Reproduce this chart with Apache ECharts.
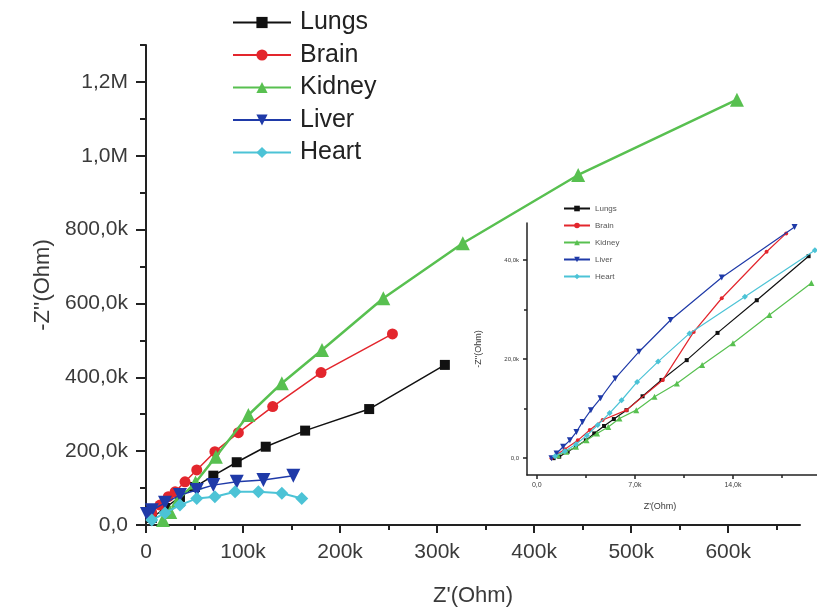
<!DOCTYPE html>
<html>
<head>
<meta charset="UTF-8">
<title>Nyquist plot</title>
<script src="https://cdn.jsdelivr.net/npm/echarts@6/dist/echarts.min.js"></script>
<style>
    html, body { margin: 0; padding: 0; background: #fff; }
    #main { width: 817px; height: 610px; }
</style>
</head>
<body>
<div id="main"></div>
<script>
// all values in kOhm, pairs are [Z', -Z'']
var lungs  = [[6,19],[19.6,46],[35,76],[50.5,103],[69.4,133.6],[93.5,170],[123.4,212],[164,255.6],[230,314],[308,433.6]];
var brain  = [[6,32.5],[14.4,54],[23,76.7],[30,90],[40.2,117],[52.3,149],[71,198.6],[95.2,250],[130.6,320.6],[180.4,412.7],[254,517.6]];
var kidney = [[17.5,13.5],[25,35],[33,68],[51,115],[72,185],[105.5,298],[140,384],[181.4,474],[244.6,614],[326.5,763],[445.4,948],[609,1152]];
var liver  = [[1,30],[6,40],[19.6,60],[35,81],[52.3,95],[69.4,108],[93.5,117],[121,122],[151.8,133.6]];
var heart  = [[6,13.5],[19.6,32.5],[35,54],[52.3,72],[71,76.7],[91.8,90],[115.8,90],[140,86],[160.5,72]];

// inset (low range), kOhm
var insetLungs  = [[1.2,0],[1.6,0.3],[2.2,1.3],[2.8,2.3],[3.5,3.6],[4.1,5.0],[4.8,6.5],[5.5,7.9],[6.4,9.7],[7.55,12.5],[8.9,15.8],[10.7,19.8],[12.9,25.3],[15.7,31.9],[19.4,40.8]];
var insetBrain  = [[1.05,0],[2.0,1.8],[2.93,3.6],[3.78,5.7],[4.7,7.7],[6.4,9.7],[9.0,15.8],[11.2,25.5],[13.2,32.3],[16.4,41.7],[17.8,45.4]];
var insetKidney = [[1.5,0.6],[2.1,1.3],[2.8,2.3],[3.55,3.6],[4.3,5.0],[5.1,6.3],[5.9,8.0],[7.1,9.7],[8.4,12.4],[10.0,15.1],[11.8,18.8],[14.0,23.2],[16.6,28.9],[19.6,35.4]];
var insetLiver  = [[1.05,0],[1.41,0.95],[1.88,2.3],[2.36,3.6],[2.83,5.3],[3.26,7.3],[3.86,9.7],[4.55,12.1],[5.6,16.1],[7.3,21.5],[9.55,27.9],[13.2,36.5],[18.4,46.7]];
var insetHeart  = [[1.3,0.4],[2.0,1.4],[2.8,2.8],[3.57,4.6],[4.35,6.7],[5.2,9.1],[6.05,11.7],[7.16,15.4],[8.66,19.5],[10.9,25.2],[14.85,32.6],[19.85,42.0]];

var names = ['Lungs', 'Brain', 'Kidney', 'Liver', 'Heart'];

var xTicks = [0, 100, 200, 300, 400, 500, 600];
var xTickLabels = ['0', '100k', '200k', '300k', '400k', '500k', '600k'];
var yTicks = [0, 200, 400, 600, 800, 1000, 1200];
var yTickLabels = ['0,0', '200,0k', '400,0k', '600,0k', '800,0k', '1,0M', '1,2M'];
var insetXTicks = [0, 7, 14];
var insetXTickLabels = ['0,0', '7,0k', '14,0k'];
var insetYTicks = [0, 20, 40];
var insetYTickLabels = ['0,0', '20,0k', '40,0k'];

var mainData = [lungs, brain, kidney, liver, heart];
var insetData = [insetLungs, insetBrain, insetKidney, insetLiver, insetHeart];
var colors = ['#111111', '#e3262d', '#58c050', '#1f3aa8', '#4cc3d6'];
var symbols = ['rect', 'circle', 'triangle', 'triangle', 'diamond'];
var rotates = [0, 0, 0, 180, 0];
var sizes = [10, 11, 14, 14, 13];
var widths = [1.5, 1.5, 2.5, 1.5, 2];

var font = 'Liberation Sans, Arial, sans-serif';

function steps(from, to, step) {
    var out = [];
    for (var v = from; v <= to + 1e-9; v += step) out.push(v);
    return out;
}

function labelOf(ticks, labels) {
    return function (v) {
        var i = ticks.indexOf(v);
        return i < 0 ? '' : labels[i];
    };
}

// one axis carries line, labels and major ticks; a twin carries the minor ticks
function axisPair(dim, gridIndex, min, max, ticks, labels, minor, o) {
    var pos = dim === 'x' ? 'bottom' : 'left';
    var main = {
        type: 'value', gridIndex: gridIndex, position: pos, min: min, max: max,
        splitLine: { show: false },
        nameMoveOverlap: false,
        axisLine: { show: true, onZero: false, lineStyle: { color: '#222', width: o.lineWidth } },
        axisTick: { show: true, inside: false, length: o.tickLen, customValues: ticks, lineStyle: { color: '#222', width: o.lineWidth } },
        axisLabel: { show: true, customValues: ticks, formatter: labelOf(ticks, labels), margin: o.margin,
            fontSize: o.fontSize, color: '#3a3a3a', fontFamily: font },
        name: o.name, nameLocation: 'middle', nameGap: o.nameGap,
        nameTextStyle: { fontSize: o.nameSize, color: '#3a3a3a', fontFamily: font, padding: o.namePad || 0 }
    };
    var twin = {
        type: 'value', gridIndex: gridIndex, position: pos, min: min, max: max,
        splitLine: { show: false },
        axisLine: { show: false, onZero: false },
        axisTick: { show: true, inside: false, length: o.minorLen, customValues: minor, lineStyle: { color: '#222', width: o.lineWidth } },
        axisLabel: { show: false }
    };
    return [main, twin];
}

var xMain = axisPair('x', 0, 0, 674, xTicks, xTickLabels, steps(0, 650, 50),
    { lineWidth: 2, tickLen: 8, minorLen: 5, margin: 17, fontSize: 21, name: "Z'(Ohm)", nameGap: 60, nameSize: 22 });
var yMain = axisPair('y', 0, 0, 1300, yTicks, yTickLabels, steps(0, 1300, 100),
    { lineWidth: 2, tickLen: 10, minorLen: 6, margin: 18, fontSize: 21, name: "-Z''(Ohm)", nameGap: 92, nameSize: 22 });
var xInset = axisPair('x', 1, -0.7, 20, insetXTicks, insetXTickLabels, steps(0, 17.5, 3.5),
    { lineWidth: 1.5, tickLen: 4, minorLen: 3, margin: 7, fontSize: 7, name: "Z'(Ohm)", nameGap: 27, nameSize: 9, namePad: [0, 24, 0, 0] });
var yInset = axisPair('y', 1, -3.4, 47.5, insetYTicks, insetYTickLabels, steps(0, 40, 10),
    { lineWidth: 1.5, tickLen: 4, minorLen: 3, margin: 8, fontSize: 6, name: "-Z''(Ohm)", nameGap: 44, nameSize: 9 });

var series = [];
for (var i = 0; i < names.length; i++) {
    series.push({
        name: names[i], type: 'line', xAxisIndex: 0, yAxisIndex: 0,
        data: mainData[i], symbol: symbols[i], symbolRotate: rotates[i], symbolSize: sizes[i],
        showAllSymbol: true, animation: false, z: 2 + i,
        lineStyle: { color: colors[i], width: widths[i] },
        itemStyle: { color: colors[i] }
    });
}
for (var j = 0; j < names.length; j++) {
    series.push({
        name: names[j], type: 'line', xAxisIndex: 2, yAxisIndex: 2,
        data: insetData[j], symbol: symbols[j], symbolRotate: rotates[j], symbolSize: j === 1 || j === 0 ? 4 : 6,
        showAllSymbol: true, animation: false, z: 10 + j, clip: true,
        lineStyle: { color: colors[j], width: 1.2 },
        itemStyle: { color: colors[j] }
    });
}

var myChart = echarts.init(document.getElementById('main'));
myChart.setOption({
    backgroundColor: '#fff',
    animation: false,
    grid: [
        { left: 146, right: 17, top: 45, bottom: 85, outerBoundsMode: 'none', containLabel: false },
        { left: 527, right: 0, top: 223, bottom: 135, outerBoundsMode: 'none', containLabel: false }
    ],
    legend: [
        {
            data: names, orient: 'vertical', left: 232, top: 10, padding: 0,
            itemWidth: 58, itemHeight: 14, itemGap: 7.5, selectedMode: false,
            textStyle: { fontSize: 25, lineHeight: 24, color: '#222', fontFamily: font, padding: [0, 0, 0, 4] }
        },
        {
            data: names, orient: 'vertical', left: 563, top: 204, padding: 0,
            itemWidth: 26, itemHeight: 7, itemGap: 8, selectedMode: false,
            textStyle: { fontSize: 8, lineHeight: 9, color: '#555', fontFamily: font }
        }
    ],
    xAxis: [xMain[0], xMain[1], xInset[0], xInset[1]],
    yAxis: [yMain[0], yMain[1], yInset[0], yInset[1]],
    series: series
});
</script>
</body>
</html>
